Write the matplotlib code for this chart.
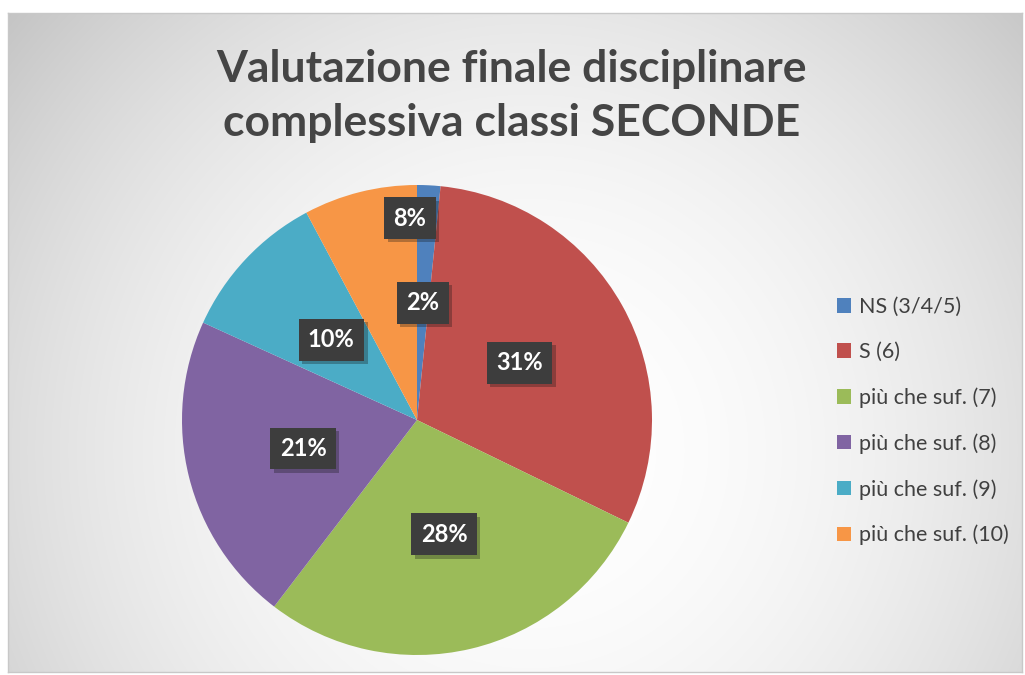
import matplotlib
matplotlib.use('Agg')
import matplotlib.pyplot as plt
import matplotlib.patheffects as pe
import numpy as np

plt.rcParams['font.family'] = ['Lato', 'DejaVu Sans']

categories = ['NS (3/4/5)', 'S (6)', 'più che suf. (7)', 'più che suf. (8)',
              'più che suf. (9)', 'più che suf. (10)']
values = [1.6, 30.6, 28.2, 21.4, 10.4, 7.8]
pct_labels = ['2%', '31%', '28%', '21%', '10%', '8%']
colors = ['#4F81BD', '#C0504D', '#9BBB59', '#8064A2', '#4BACC6', '#F79646']
title = 'Valutazione finale disciplinare\ncomplessiva classi SECONDE'

W, H = 1025, 675
fig = plt.figure(figsize=(W / 100, H / 100), dpi=100)
fig.patch.set_facecolor('white')

# background with radial gradient (chart area)
x0, x1, y0, y1 = 8, 1022, 13, 672
bg = fig.add_axes([x0 / W, 1 - y1 / H, (x1 - x0) / W, (y1 - y0) / H])
yy, xx = np.mgrid[y0:y1, x0:x1]
d = np.hypot(xx - 530, yy - 450) / 681.0
v = 1 - 0.23 * d ** 2
img = np.dstack([v, v, v])
bg.imshow(img, aspect='auto', extent=[0, 1, 0, 1], origin='upper')
bg.set_xlim(0, 1)
bg.set_ylim(0, 1)
bg.set_xticks([])
bg.set_yticks([])
for s in bg.spines.values():
    s.set_color('#c8c8c8')
    s.set_linewidth(1)

# pie
cx, cy, r = 417, 420, 235
ax = fig.add_axes([(cx - r) / W, 1 - (cy + r) / H, 2 * r / W, 2 * r / H])
ax.set_facecolor('none')
wedges, _ = ax.pie(values, colors=colors, startangle=90, counterclock=False,
                   radius=1, wedgeprops=dict(linewidth=0))
ax.set_xlim(-1, 1)
ax.set_ylim(-1, 1)
ax.set_aspect('equal')
ax.axis('off')

# percentage labels in dark boxes
dist = [0.5, 0.5, 0.5, 0.5, 0.5, 0.86]
for i, (w, lab) in enumerate(zip(wedges, pct_labels)):
    ang = np.deg2rad((w.theta1 + w.theta2) / 2)
    if i == 5:
        ang = np.deg2rad(92)
    tx, ty = dist[i] * np.cos(ang), dist[i] * np.sin(ang)
    t = ax.text(tx, ty, lab, ha='center', va='center', fontsize=17,
                fontweight='bold', color='white',
                bbox=dict(boxstyle='square,pad=0.4', facecolor='#3d3d3d',
                          edgecolor='none'))
    t.get_bbox_patch().set_path_effects(
        [pe.withSimplePatchShadow(offset=(2.5, -2.5), alpha=0.3)])

# title
fig.text(512 / W, 1 - 96 / H, title, ha='center', va='center', fontsize=32,
         fontweight='bold', color='#454545', linespacing=1.45)

# legend
leg = fig.legend(wedges, categories, loc='upper left',
                 bbox_to_anchor=(837 / W, 1 - 297 / H), frameon=False,
                 borderaxespad=0, borderpad=0,
                 fontsize=15.5, labelcolor='#404040', labelspacing=1.17,
                 handlelength=0.65, handleheight=0.65, handletextpad=0.35)

fig.savefig('out.png', dpi=100, facecolor='white')
